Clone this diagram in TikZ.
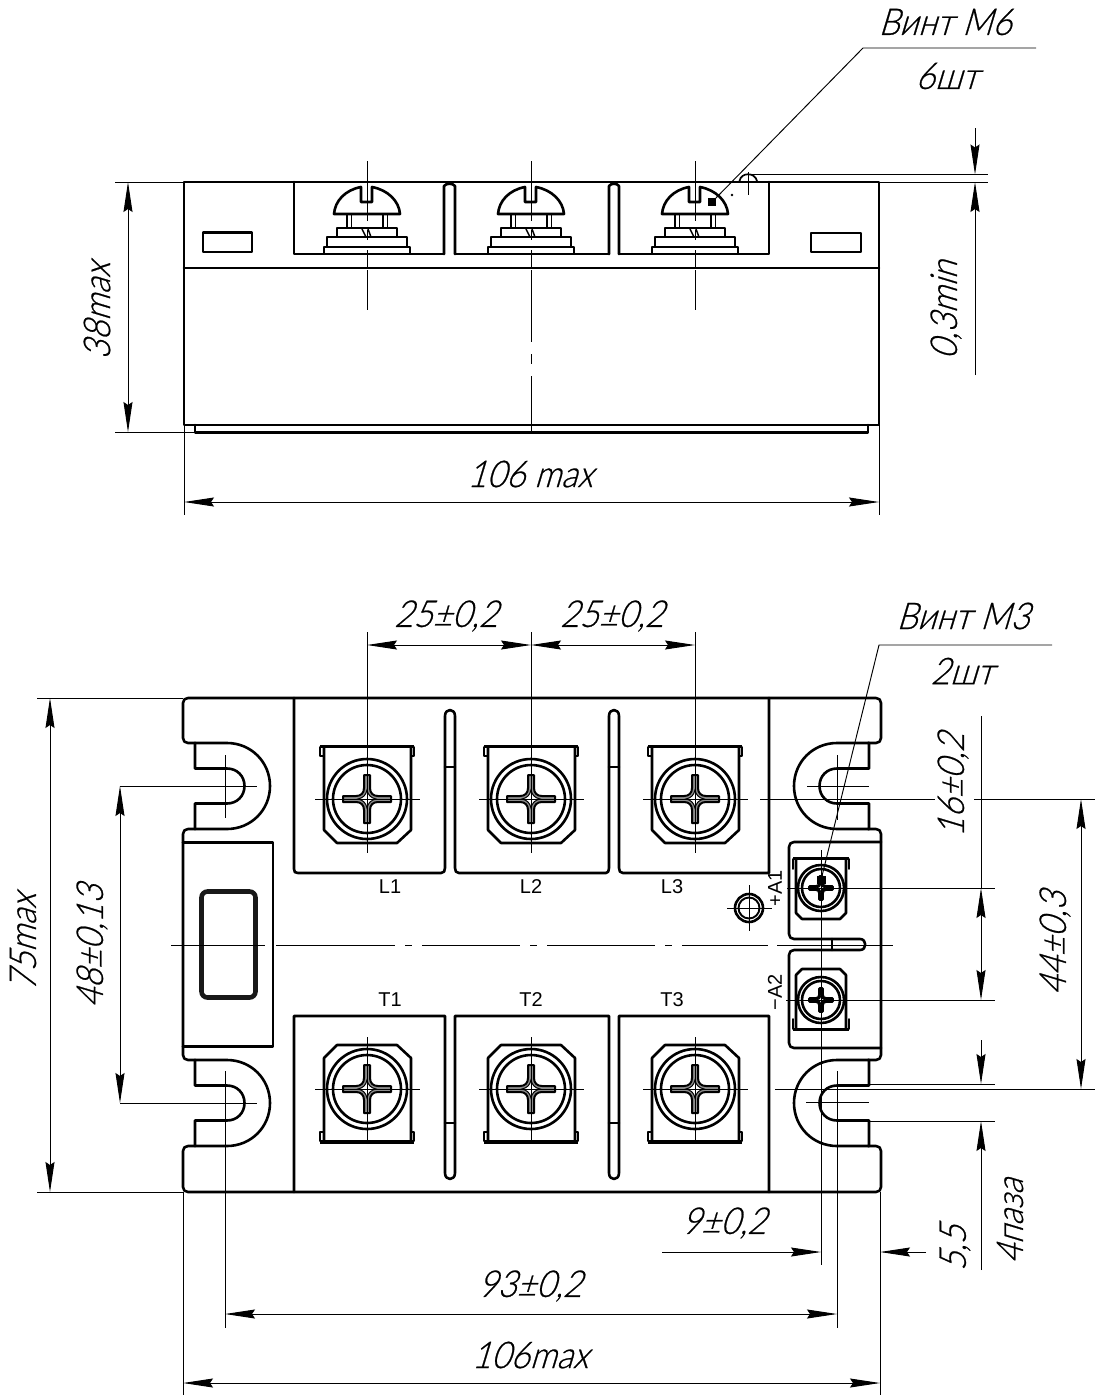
\documentclass[tikz,border=0pt]{standalone}
\usepackage{fontspec}
\usetikzlibrary{arrows.meta}
\newfontfamily\gost[FakeSlant=0.3,FakeStretch=0.9,FakeBold=0.6]{Lato Light}
\newfontfamily\plainlbl{Liberation Sans}
\tikzset{
 main/.style={line width=2.6pt,line join=round,line cap=round},
 thin/.style={line width=0.95pt},
 dim/.style={line width=0.95pt,{Stealth[length=30pt,width=9pt,inset=3pt]}-{Stealth[length=30pt,width=9pt,inset=3pt]}},
 dimend/.style={line width=0.95pt,-{Stealth[length=30pt,width=9pt,inset=3pt]}},
 lbl/.style={font=\gost\fontsize{37}{37}\selectfont,inner sep=0pt},
 tag/.style={font=\plainlbl\fontsize{20}{20}\selectfont,inner sep=0pt},
}
% side-view screw, centred on x
\newcommand{\sidescrew}[1]{\begin{scope}[shift={(#1,0)}]
 \draw[main] (-33,214) .. controls (-32,201) and (-22,190) .. (-6,187) -- (-6,202) -- (5,202) -- (5,187) .. controls (21,190) and (32,201) .. (33,214) -- cycle;
 \draw[main,line width=1.7pt] (-20,214)--(-20,227) (-15.5,214)--(-15.5,227) (16,214)--(16,227) (20.5,214)--(20.5,227);
 \draw[main] (-30,228) rectangle (30,237);
 \draw[main] (-40,237) rectangle (40,247);
 \draw[main] (-43,247) rectangle (43,254);
 \draw[main,line width=1.5pt] (-5,229)--(-1,237) (1,229)--(4,237);
 \draw[thin] (0,161)--(0,221) (0,230)--(0,240) (0,250)--(0,267) (0,270)--(0,310);
\end{scope}}
% phillips cross, half length 24
\newcommand{\phil}[1][2pt]{%
 \draw[line width=#1,fill=black!45,line join=round] (-24,-3)--(-11,-3) .. controls (-6,-3) and (-3,-6) .. (-3,-11)--(-3,-24)--(3,-24)--(3,-11) .. controls (3,-6) and (6,-3) .. (11,-3)--(24,-3)--(24,3)--(11,3) .. controls (6,3) and (3,6) .. (3,11)--(3,24)--(-3,24)--(-3,11) .. controls (-3,6) and (-6,3) .. (-11,3)--(-24,3)--cycle;
 \draw[line width=1pt,fill=white] (-9,0) .. controls (-4,-1) and (-1,-4) .. (0,-9) .. controls (1,-4) and (4,-1) .. (9,0) .. controls (4,1) and (1,4) .. (0,9) .. controls (-1,4) and (-4,1) .. (-9,0) -- cycle;}
% large terminal: origin at screw centre; third argument 1 or -1 flips it
\newcommand{\bigterm}[3]{\begin{scope}[shift={(#1,#2)},yscale=#3]
 \fill (-47,-54.5) rectangle (47,-51);
 \draw[main,line width=1.9pt] (-47,-52)--(-47,-43)--(-44,-43) (47,-52)--(47,-43)--(44,-43);
 \draw[main] (-43,-51)--(-43,31)--(-30,44)--(30,44)--(44,31)--(44,-51);
 \draw[main,fill=white] (0,0) circle[radius=40];
 \draw[main] (0,0) circle[radius=34];
 \phil
 \draw[thin] (-52,0)--(53,0);
\end{scope}}
% small terminal
\newcommand{\smallterm}[3]{\begin{scope}[shift={(#1,#2)},yscale=#3]
 \fill (-28,-31) rectangle (28,-28);
 \draw[main,line width=1.7pt] (-28,-29)--(-28,-19) (28,-29)--(28,-19);
 \draw[main] (-25,-29)--(-25,25)--(-19,31)--(19,31)--(25,25)--(25,-29);
 \draw[main,fill=white] (0,0) circle[radius=23];
 \draw[main] (0,0) circle[radius=19];
 \begin{scope}[scale=0.48]\phil[2.8pt]\end{scope}
\end{scope}}
% notch: centre x, centre y, direction
\newcommand{\notch}[3]{\begin{scope}[shift={(#1,#2)},xscale=#3]
 \draw[main] (-32,-43)--(0,-43) .. controls (24,-43) and (43,-24) .. (43,0) .. controls (43,24) and (24,43) .. (0,43)--(-32,43);
 \draw[main] (-32,-43)--(-32,-17.5)--(0,-17.5) .. controls (10,-17.5) and (17.5,-10) .. (17.5,0) .. controls (17.5,10) and (10,17.5) .. (0,17.5)--(-32,17.5)--(-32,43);
\end{scope}}
\begin{document}
\begin{tikzpicture}[x=1pt,y=-1pt]
\useasboundingbox (0,0) rectangle (1099,1400);
\fill[white] (0,0) rectangle (1099,1400);
%%% SIDE VIEW
\draw[main] (184,182) rectangle (879,425);
\draw[main] (184,268)--(879,268);
\draw[main] (195,425)--(195,432.5)--(868,432.5)--(868,425);
\draw[main] (294,182)--(294,254)--(444,254);
\draw[main] (455,254)--(609,254);
\draw[main] (619,254)--(769,254)--(769,182);
\draw[main] (444,254)--(444,186) .. controls (446,183) and (453,183) .. (455,186)--(455,254);
\draw[main] (609,254)--(609,186) .. controls (611,183) and (617,183) .. (619,186)--(619,254);
\draw[main] (203,232.5) rectangle (252,252);
\draw[main] (811,233) rectangle (861,252);
\sidescrew{367}\sidescrew{531}\sidescrew{695}
\draw[thin] (531,310)--(531,342) (531,354)--(531,364) (531,376)--(531,432);
% roughness mark and 0,3 dim
\draw[main,line width=1.7pt] (739.5,181) .. controls (741,172) and (755,172) .. (757,181);
\draw[thin] (748,172)--(748,195);
\draw[thin] (752,174.5)--(988,174.5);
\draw[thin] (879,182)--(988,182);
\draw[dimend] (975,128)--(975,174.5);
\draw[dimend] (975,375)--(975,182);
\node[lbl,rotate=90] (dimzero) at (946,310) {0,3min};
% 38 max / 106 max
\draw[thin] (115,182)--(184,182) (115,432)--(195,432);
\draw[dim] (128,182)--(128,432);
\node[lbl,rotate=90] (dimthirtyeight) at (97,311) {38max};
\draw[thin] (184,425)--(184,515) (879,425)--(879,515);
\draw[dim] (184,502)--(879,502);
\node[lbl] (dimwidthA) at (530,474) {106 max};
% leader M6
\fill (708,198) rectangle (716,206);
\draw[thin] (712,202)--(863,48)--(1036,48);
\node[lbl] (screwsix) at (945,22) {Винт М6};
\node[lbl] (sixpcs) at (947,76) {6шт};
\fill (732,195) circle[radius=1.4];
%%% PLAN VIEW
% outline
\draw[main] (195,743)--(188,743) .. controls (185,743) and (183,741) .. (183,738)--(183,703) .. controls (183,700) and (185,698) .. (188,698)--(876,698) .. controls (879,698) and (881,700) .. (881,703)--(881,738) .. controls (881,741) and (879,743) .. (876,743)--(868,743);
\draw[main] (195,829)--(188,829) .. controls (185,829) and (183,831) .. (183,834)--(183,1055) .. controls (183,1058) and (185,1060) .. (188,1060)--(195,1060);
\draw[main] (195,1146)--(188,1146) .. controls (185,1146) and (183,1148) .. (183,1151)--(183,1187) .. controls (183,1190) and (185,1192) .. (188,1192)--(876,1192) .. controls (879,1192) and (881,1190) .. (881,1187)--(881,1151) .. controls (881,1148) and (879,1146) .. (876,1146)--(868,1146);
\draw[main] (868,829)--(876,829) .. controls (879,829) and (881,831) .. (881,834)--(881,1055) .. controls (881,1058) and (879,1060) .. (876,1060)--(868,1060);
\notch{227}{786}{1}\notch{227}{1103}{1}
\notch{837}{786}{-1}\notch{837}{1103}{-1}
% left panel
\draw[main] (183,842.5)--(273,842.5)--(273,1046.5)--(183,1046.5);
\draw[line width=4.6pt,rounded corners=6pt,black!90] (201.5,891.5) rectangle (255.5,997.5);
% top recesses
\draw[main] (294,698)--(294,869) .. controls (294,872) and (295,873) .. (298,873)--(441,873) .. controls (444,873) and (445,871) .. (445,868)--(445,716) .. controls (445,708) and (455,708) .. (455,716)--(455,868) .. controls (455,871) and (456,873) .. (459,873)--(606,873) .. controls (608,873) and (609,871) .. (609,868)--(609,716) .. controls (609,708) and (619,708) .. (619,716)--(619,868) .. controls (619,871) and (620,873) .. (623,873)--(769,873)--(769,698);
\draw[main] (445,767)--(455,767) (609,767)--(619,767);
% bottom recesses
\draw[main] (294,1192)--(294,1016)--(445,1016)--(445,1173) .. controls (445,1181) and (455,1181) .. (455,1173)--(455,1016)--(609,1016)--(609,1173) .. controls (609,1181) and (619,1181) .. (619,1173)--(619,1016)--(769,1016)--(769,1192);
\draw[main] (445,1123)--(455,1123) (609,1123)--(619,1123);
% terminals
\bigterm{367}{799}{1}\bigterm{531}{799}{1}\bigterm{695}{799}{1}
\bigterm{367}{1089}{-1}\bigterm{531}{1089}{-1}\bigterm{695}{1089}{-1}
\draw[thin] (367,632)--(367,853) (531,632)--(531,853) (695,632)--(695,853);
\draw[thin] (367,1037)--(367,1142) (531,1037)--(531,1142) (695,1037)--(695,1142);
% right panel
\draw[main] (881,842)--(794,842) .. controls (791,842) and (789,844) .. (789,847)--(789,934) .. controls (789,937) and (791,939) .. (794,939)--(860,939) .. controls (867,939) and (867,950) .. (860,950)--(794,950) .. controls (791,950) and (789,952) .. (789,955)--(789,1043) .. controls (789,1046) and (791,1048) .. (794,1048)--(881,1048);
\draw[main] (832,939)--(832,950);
\smallterm{821}{888}{1}\smallterm{821}{1000}{-1}
\fill (817,876) rectangle (826,884);
% hole
\draw[main] (749,908) circle[radius=14];
\draw[main,line width=1.9pt] (749,908) circle[radius=10.5];
\draw[thin] (727,908)--(772,908) (749,885)--(749,931);
% centre line
\draw[thin] (171,945)--(265,945) (276,945)--(395,945) (405,945)--(412,945) (422,945)--(520,945) (530,945)--(537,945) (547,945)--(655,945) (665,945)--(672,945) (682,945)--(768,945) (777,945)--(893,945);
% notch centre marks
\draw[thin] (120,786)--(257,786) (225,755)--(225,818);
\draw[thin] (120,1103)--(257,1103) (225,1071)--(225,1328);
\draw[thin] (807,786)--(869,786) (837,755)--(837,820);
\draw[thin] (806,1102)--(869,1102) (837,1071)--(837,1328);
% dim 25
\draw[dim] (367,645)--(531,645);
\draw[dim] (531,645)--(695,645);
\node[lbl] (dimpitchA) at (446,616) {25±0,2};
\node[lbl] (dimpitchB) at (612,616) {25±0,2};
% leader M3
\draw[thin] (821,880)--(879,645)--(1052,645);
\node[lbl] (screwthree) at (963,616) {Винт М3};
\node[lbl] (twopcs) at (962,671) {2шт};
% 75 max
\draw[thin] (37,698)--(183,698) (37,1192)--(183,1192);
\draw[dim] (50,698)--(50,1192);
\node[lbl,rotate=90] (dimheight) at (23,942) {75max};
% 48
\draw[dim] (120,786)--(120,1103);
\node[lbl,rotate=90] (dimslot) at (92,946) {48±0,13};
% A1 A2 axes
\draw[thin] (787,888)--(995,888) (786,1000)--(995,1000);
\draw[thin] (821,850)--(821,1265);
% 16
\draw[thin] (981,716)--(981,888);
\draw[dim] (981,888)--(981,1000);
\node[lbl,rotate=90] (dimsixteen) at (953,785) {16±0,2};
% 44
\draw[thin] (760,799)--(935,799) (974,799)--(1095,799);
\draw[thin] (775,1089)--(1095,1089);
\draw[dim] (1081,799)--(1081,1089);
\node[lbl,rotate=90] (dimfortyfour) at (1055,943) {44±0,3};
% 5,5 4 paza
\draw[thin] (868,1084)--(995,1084) (868,1121)--(995,1121);
\draw[dimend] (981,1040)--(981,1084);
\draw[dimend] (981,1270)--(981,1121);
\node[lbl,rotate=90] (dimfive) at (955,1248) {5,5};
\node[lbl,rotate=90] (dimfour) at (1010,1221) {4паза};
% 9
\draw[dimend] (662,1252)--(821,1252);
\draw[dimend] (926,1252)--(880,1252);
\node[lbl] (dimnine) at (724,1223) {9±0,2};
% 93 and 106
\draw[dim] (225,1314)--(837,1314);
\node[lbl] (dimninety) at (530,1286) {93±0,2};
\draw[thin] (183,1192)--(183,1395) (880,1192)--(880,1395);
\draw[dim] (183,1383)--(880,1383);
\node[lbl] (dimwidthB) at (530,1355) {106max};
% terminal tags
\node[tag] (lone) at (390,887) {L1};
\node[tag] (ltwo) at (531,887) {L2};
\node[tag] (lthree) at (672,887) {L3};
\node[tag] (tone) at (390,1000) {T1};
\node[tag] (ttwo) at (531,1000) {T2};
\node[tag] (tthree) at (672,1000) {T3};
\node[tag,rotate=90] (aone) at (775,888) {+A1};
\node[tag,rotate=90] (atwo) at (775,992) {−A2};
\end{tikzpicture}
\end{document}
